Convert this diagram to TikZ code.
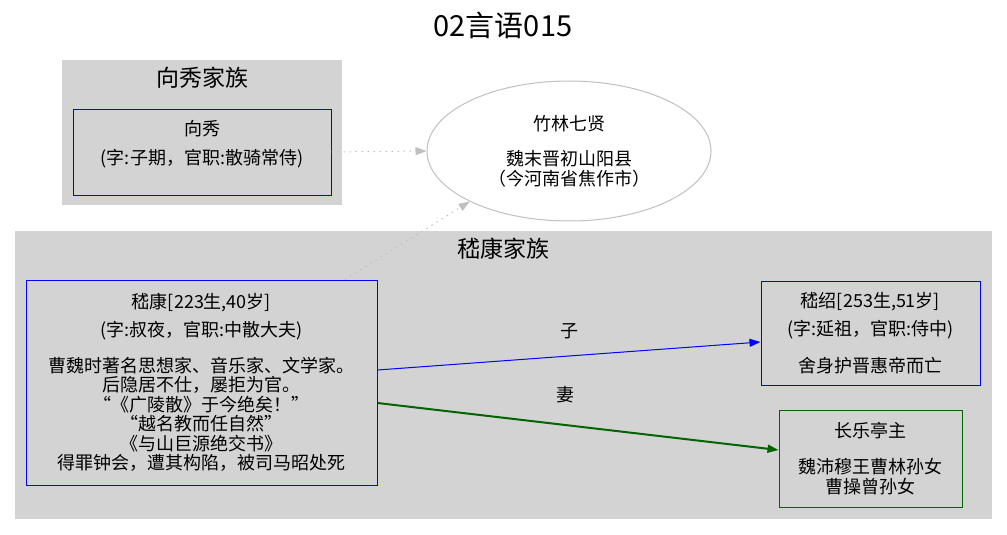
\documentclass[tikz,border=0pt]{standalone}
\usepackage{fontspec}
\setmainfont{Noto Sans CJK SC}
\usetikzlibrary{shapes.geometric,arrows.meta}
\definecolor{clustergray}{HTML}{D3D3D3}
\definecolor{silver}{HTML}{C0C0C0}
\definecolor{darkgreen}{HTML}{006400}
\tikzset{
  nodefont/.style={font=\fontsize{18}{19.5}\selectfont},
  person/.style={nodefont,draw=blue,line width=1pt,rectangle,align=center,inner sep=0pt},
  familylabel/.style={font=\fontsize{23}{26}\selectfont},
  rel/.style={line width=1pt,-{Triangle[length=11pt,width=8pt]}},
  link/.style={draw=silver,line width=1pt,dash pattern=on 1.5pt off 4.5pt,-{Triangle[length=11pt,width=8pt,fill=silver]}}
}
\begin{document}
\begin{tikzpicture}[x=1pt,y=-1pt]
\useasboundingbox (0,0) rectangle (1007,535);
\node[font=\fontsize{29}{32}\selectfont] (title) at (503,25) {02言语015};
% 向秀家族
\fill[clustergray] (62,60) rectangle (342,205);
\node[familylabel] (xiangfam) at (202,78) {向秀家族};
\node[person,draw=blue,minimum width=258pt,minimum height=86pt] (xiangxiu) at (202,152)
  {向秀\\[9pt](字:子期，官职:散骑常侍)\\~};
% 嵇康家族
\fill[clustergray] (15,231) rectangle (992,519);
\node[familylabel] (jifam) at (503,249) {嵇康家族};
\node[person,minimum width=351pt,minimum height=205pt] (jikang) at (201.5,382.5)
  {嵇康[223生,40岁]\\[9pt](字:叔夜，官职:中散大夫)\\[16pt]曹魏时著名思想家、音乐家、文学家。\\后隐居不仕，屡拒为官。\\“《广陵散》于今绝矣！”\\“越名教而任自然”\\《与山巨源绝交书》\\得罪钟会，遭其构陷，被司马昭处死};
\node[person,minimum width=219pt,minimum height=104pt] (jishao) at (870.5,333)
  {嵇绍[253生,51岁]\\[9pt](字:延祖，官职:侍中)\\[17pt]舍身护晋惠帝而亡};
\node[person,draw=darkgreen,minimum width=183pt,minimum height=97pt] (changle) at (870.5,458.5)
  {长乐亭主\\[17pt]魏沛穆王曹林孙女\\曹操曾孙女};
% 竹林七贤
\node[nodefont,ellipse,draw=silver,line width=1pt,fill=white,minimum width=284pt,minimum height=140pt,inner sep=0pt,align=center] (zhulin) at (569,151)
  {竹林七贤\\[16pt]魏末晋初山阳县\\（今河南省焦作市）};
\draw[link] (xiangxiu.east) -- (zhulin.west);
\draw[link] ([xshift=143.5pt]jikang.north) -- (zhulin.207);
\draw[rel,blue] ([yshift=12.5pt]jikang.east) -- ([yshift=-9pt]jishao.west) node[nodefont,text=black,midway,above=13pt] (zi) {子};
\draw[rel,darkgreen,line width=2pt] ([yshift=-20.5pt]jikang.east) -- ([yshift=8.5pt]changle.west) node[nodefont,text=black,pos=0.47,above=18pt] (qi) {妻};
\end{tikzpicture}
\end{document}
